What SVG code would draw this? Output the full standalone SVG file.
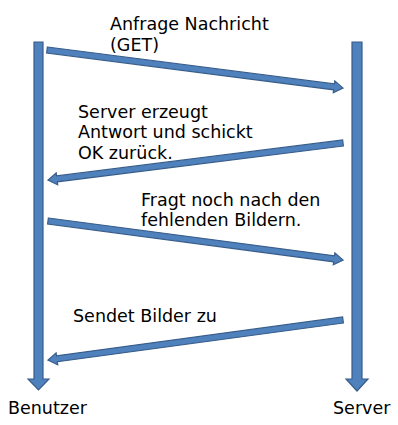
<svg xmlns="http://www.w3.org/2000/svg" width="398" height="425" viewBox="0 0 398 425">
<style>
.a{fill:#4F81BD;stroke:#385D8A;stroke-width:1.2;stroke-linejoin:miter}
.t{font-family:"DejaVu Sans",sans-serif;font-size:17.5px;fill:#000}
</style>
<rect width="398" height="425" fill="#fff"/>
<g id="benutzer">
<polygon class="a" points="34,42 43,42 43,379 49,379 38.5,390 28,379 34,379"/>
<text class="t" x="8" y="414">Benutzer</text>
</g>
<g id="server">
<polygon class="a" points="352,42 362,42 362,379 368,379 357,391 346,379 352,379"/>
<text class="t" x="333" y="414">Server</text>
</g>
<g id="connectors">
<g id="m1">
<polygon class="a" transform="translate(47,50) rotate(7.32)" points="0,-3 289.4,-3 289.4,-6 298.4,0 289.4,6 289.4,3 0,3"/>
<text class="t" x="110" y="30">Anfrage Nachricht</text>
<text class="t" x="110" y="51">(GET)</text>
</g>
<g id="m2">
<polygon class="a" transform="translate(343,143) rotate(172.85)" points="0,-3 288.3,-3 288.3,-6 297.3,0 288.3,6 288.3,3 0,3"/>
<text class="t" x="78" y="118">Server erzeugt</text>
<text class="t" x="78" y="138">Antwort und schickt</text>
<text class="t" x="78" y="159">OK zurück.</text>
</g>
<g id="m3">
<polygon class="a" transform="translate(48,221) rotate(7.53)" points="0,-3 288.6,-3 288.6,-6 297.6,0 288.6,6 288.6,3 0,3"/>
<text class="t" x="141" y="206">Fragt noch nach den</text>
<text class="t" x="141" y="226">fehlenden Bildern.</text>
</g>
<g id="m4">
<polygon class="a" transform="translate(343,320) rotate(172.28)" points="0,-3 288.7,-3 288.7,-6 297.7,0 288.7,6 288.7,3 0,3"/>
<text class="t" x="73" y="322">Sendet Bilder zu</text>
</g>
</g>
</svg>
